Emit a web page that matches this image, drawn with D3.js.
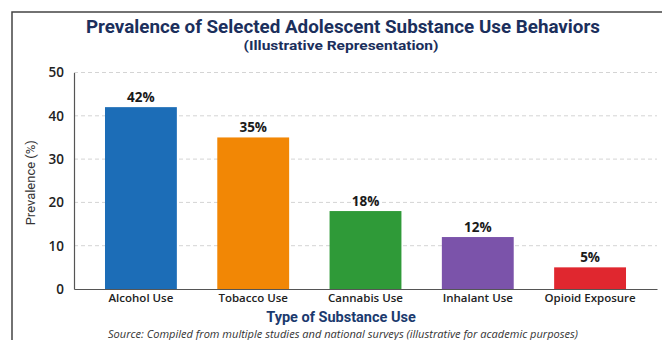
<!DOCTYPE html>
<html>
<head>
<meta charset="utf-8">
<script src="https://cdn.jsdelivr.net/npm/d3@7"></script>
<style>
  body { margin: 0; background: #fff; }
  svg { display: block; font-family: Roboto, "Liberation Sans", sans-serif; }
</style>
</head>
<body>
<div id="chart"></div>
<script>
const categories = ["Alcohol Use", "Tobacco Use", "Cannabis Use", "Inhalant Use", "Opioid Exposure"];
const values = [42, 35, 18, 12, 5];
const barColors = ["#1c6db7", "#f28705", "#2f9a38", "#7b53aa", "#e0272f"];
const yTicks = [0, 10, 20, 30, 40, 50];

const width = 662;
const height = 340;
const margin = { top: 72.5, right: 5, bottom: 51, left: 74 };
const sansWide = "'Open Sans', 'DejaVu Sans', sans-serif";

const svg = d3.select("#chart")
  .append("svg")
  .attr("width", width)
  .attr("height", height);

// frame (runs off the right and bottom edges)
svg.append("rect")
  .attr("x", 12).attr("y", 12)
  .attr("width", 700).attr("height", 400)
  .attr("fill", "none")
  .attr("stroke", "#444")
  .attr("stroke-width", 1.5);

const x = d3.scaleBand()
  .domain(categories)
  .range([margin.left, width - margin.right])
  .paddingInner(0.36)
  .paddingOuter(0.276);

const y = d3.scaleLinear()
  .domain([0, 50])
  .range([height - margin.bottom, margin.top]);

// gridlines
svg.append("g")
  .selectAll("line")
  .data(yTicks.filter((d) => d > 0))
  .enter()
  .append("line")
  .attr("x1", margin.left)
  .attr("x2", width - margin.right)
  .attr("y1", (d) => y(d))
  .attr("y2", (d) => y(d))
  .attr("stroke", "#d4d4d4")
  .attr("stroke-dasharray", "4,3")
  .attr("stroke-width", 1);

// bars
svg.append("g")
  .selectAll("rect")
  .data(values)
  .enter()
  .append("rect")
  .attr("x", (d, i) => x(categories[i]))
  .attr("y", (d) => y(d))
  .attr("width", x.bandwidth())
  .attr("height", (d) => y(0) - y(d))
  .attr("fill", (d, i) => barColors[i]);

// value labels
svg.append("g")
  .selectAll("text")
  .data(values)
  .enter()
  .append("text")
  .attr("x", (d, i) => x(categories[i]) + x.bandwidth() / 2)
  .attr("y", (d) => y(d) - 5)
  .attr("text-anchor", "middle")
  .attr("font-family", sansWide)
  .attr("font-size", 13.5)
  .attr("font-weight", "bold")
  .attr("fill", "#1a1a1a")
  .text((d) => d + "%");

// y axis
const yAxis = svg.append("g")
  .attr("transform", `translate(${margin.left},0)`)
  .call(d3.axisLeft(y).tickValues(yTicks).tickSize(0).tickPadding(10));
yAxis.select(".domain").attr("stroke", "#555").attr("stroke-width", 1.2);
yAxis.selectAll("text")
  .attr("font-size", 13.5)
  .attr("font-family", sansWide)
  .attr("font-weight", 600)
  .attr("fill", "#222");

// x axis
const xAxis = svg.append("g")
  .attr("transform", `translate(0,${y(0)})`)
  .call(d3.axisBottom(x).tickSize(0).tickPadding(5));
xAxis.select(".domain").attr("stroke", "#555").attr("stroke-width", 1.2);
xAxis.selectAll("text")
  .attr("font-size", 11.5)
  .attr("font-family", sansWide)
  .attr("font-weight", 600)
  .attr("fill", "#222");

// titles
svg.append("text")
  .attr("x", 343).attr("y", 33)
  .attr("text-anchor", "middle")
  .attr("font-size", 17.5)
  .attr("font-weight", "bold")
  .attr("fill", "#1b2f5c")
  .attr("textLength", 514)
  .attr("lengthAdjust", "spacingAndGlyphs")
  .text("Prevalence of Selected Adolescent Substance Use Behaviors");

svg.append("text")
  .attr("x", 341).attr("y", 50)
  .attr("text-anchor", "middle")
  .attr("font-size", 13)
  .attr("font-weight", "bold")
  .attr("fill", "#1b2f5c")
  .attr("textLength", 195)
  .attr("lengthAdjust", "spacingAndGlyphs")
  .text("(Illustrative Representation)");

svg.append("text")
  .attr("transform", `translate(35,${(y(0) + y(50)) / 2 + 2}) rotate(-90)`)
  .attr("text-anchor", "middle")
  .attr("font-size", 13)
  .attr("fill", "#333")
  .text("Prevalence (%)");

svg.append("text")
  .attr("x", 341).attr("y", 322)
  .attr("text-anchor", "middle")
  .attr("font-size", 14.5)
  .attr("font-weight", "bold")
  .attr("fill", "#1b3a6e")
  .text("Type of Substance Use");

svg.append("text")
  .attr("x", 343).attr("y", 338)
  .attr("text-anchor", "middle")
  .attr("font-family", sansWide)
  .attr("font-size", 10)
  .attr("font-style", "italic")
  .attr("fill", "#333")
  .attr("textLength", 470)
  .attr("lengthAdjust", "spacingAndGlyphs")
  .text("Source: Compiled from multiple studies and national surveys (illustrative for academic purposes)");
</script>
</body>
</html>
